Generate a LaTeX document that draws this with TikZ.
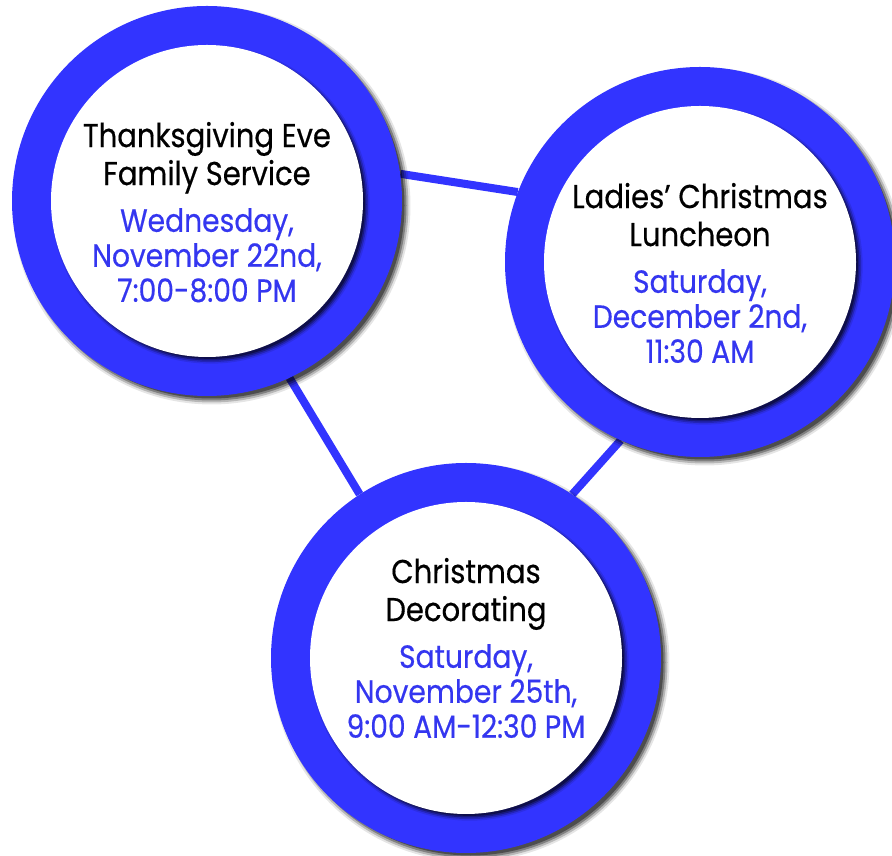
\documentclass[tikz,border=0pt]{standalone}
\usepackage{fontspec}
\setmainfont[FakeStretch=0.88, FakeBold=0.4]{Poppins}
\usepackage{tikz}
\usetikzlibrary{positioning,calc,shadows,backgrounds}

\definecolor{ringblue}{RGB}{50,52,255}
\definecolor{dateblue}{RGB}{52,54,240}

\tikzset{
	softshadow/.style={
		drop shadow={shadow xshift=#1, shadow yshift=-#1, shadow scale=0.99, fill=black, opacity=.4},
		drop shadow={shadow xshift=#1, shadow yshift=-#1, shadow scale=1.0, fill=black, opacity=.3},
		drop shadow={shadow xshift=#1, shadow yshift=-#1, shadow scale=1.01, fill=black, opacity=.2},
		drop shadow={shadow xshift=#1, shadow yshift=-#1, shadow scale=1.02, fill=black, opacity=.1}},
	ring/.style={circle, fill=ringblue, inner sep=0pt, minimum size=390pt, softshadow=4.5pt},
	disc/.style={circle, fill=white, inner sep=0pt, minimum size=312pt, softshadow=3.5pt},
	title/.style={align=center, text depth=9pt, font=\fontsize{33}{38}\selectfont},
	when/.style={align=center, text=dateblue, font=\fontsize{32}{35}\selectfont},
	link/.style={ringblue, line width=8pt}
}

\begin{document}
\begin{tikzpicture}[x=1pt, y=1pt]
		
		\useasboundingbox (0,0) rectangle (892,856);
		
		% the three events
		\node[ring] (thanks) at (207,655) {};
		\node[disc] (thanks-disc) at (thanks) {};
		\node[title] (thanks-title) at ($(thanks)+(0,43)$) {Thanksgiving Eve\\Family Service};
		\node[when, below=7pt of thanks-title] (thanks-date) {Wednesday,\\November 22nd,\\7:00-8:00 PM};
		
		\node[ring] (lunch) at (700,594) {};
		\node[disc] (lunch-disc) at (lunch) {};
		\node[title] (lunch-title) at ($(lunch)+(0,43)$) {Ladies’ Christmas\\Luncheon};
		\node[when, below=7pt of lunch-title] (lunch-date) {Saturday,\\December 2nd,\\11:30 AM};
		
		\node[ring] (decor) at (466,198) {};
		\node[disc] (decor-disc) at (decor) {};
		\node[title] (decor-title) at ($(decor)+(0,64)$) {Christmas\\Decorating};
		\node[when, below=7pt of decor-title] (decor-date) {Saturday,\\November 25th,\\9:00 AM-12:30 PM};
		
		% links behind the rings
		\begin{scope}[on background layer]
			\draw[link] (thanks.8) -- (lunch.159);
			\draw[link] (thanks.-65) -- (decor.123);
			\draw[link] (lunch.-114) -- (decor.57);
		\end{scope}
		
		\end{tikzpicture}
\end{document}
